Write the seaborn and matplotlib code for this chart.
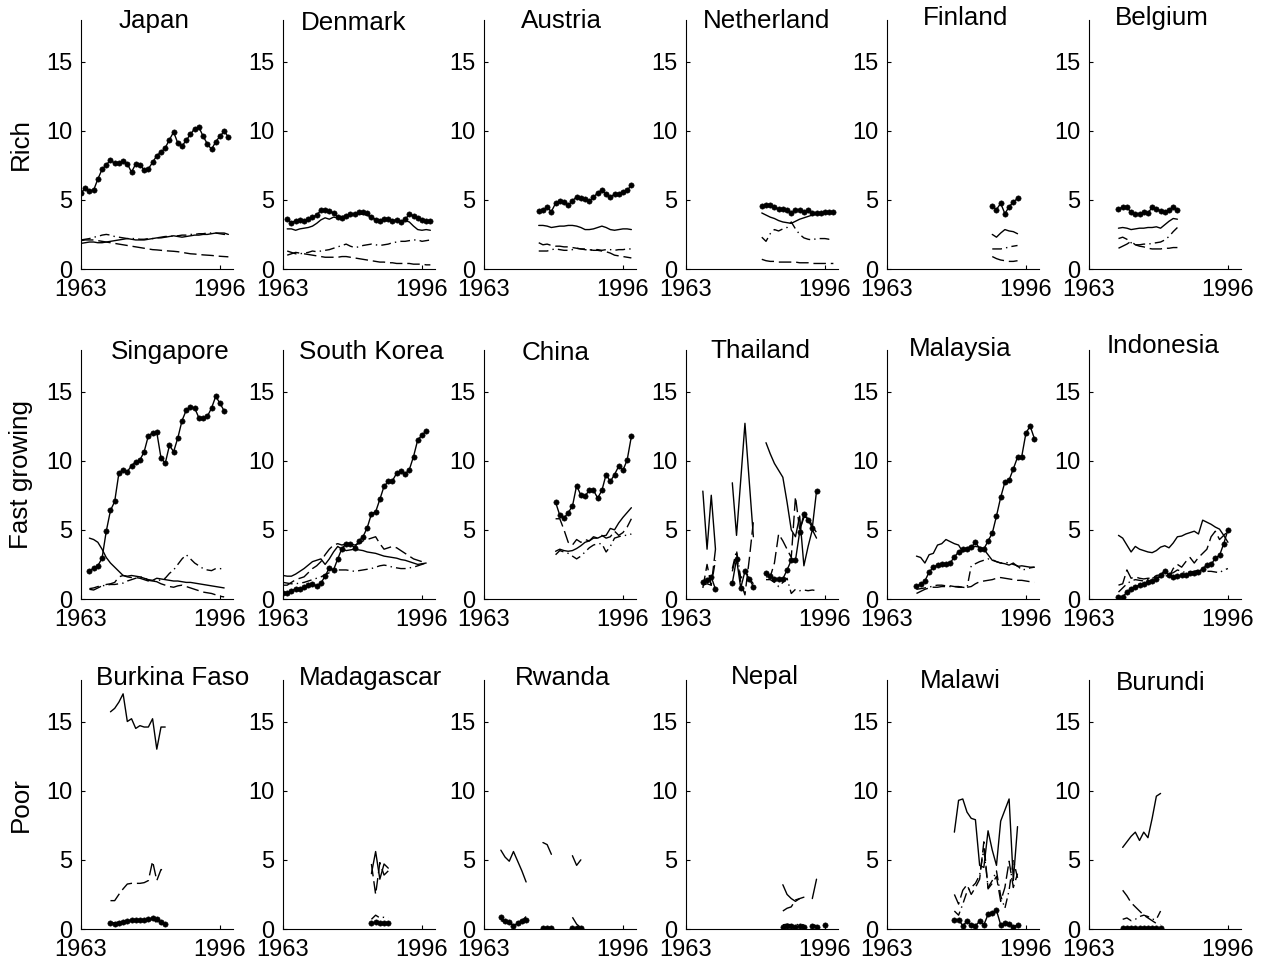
import numpy as np
import pandas as pd
import matplotlib
matplotlib.use("Agg")
import matplotlib.pyplot as plt
import seaborn as sns

nan = np.nan

# each country: first year, then one value per year (nan = no data)
# series: dot = dotted line, solid, dash = dashed, dd = dash-dot
japan_start = 1963
japan_dot = [5.5, 5.85, 5.65, 5.7, 6.5, 7.2, 7.55, 7.85, 7.65, 7.65, 7.8, 7.6, 7.0, 7.6, 7.55, 7.15, 7.25, 7.7,
             8.2, 8.45, 8.75, 9.35, 9.9, 9.1, 8.9, 9.3, 9.75, 10.15, 10.25, 9.6, 9.05, 8.65, 9.2, 9.6, 9.95, 9.55]
japan_solid = [1.85, 1.9, 1.95, 1.95, 1.9, 1.9, 1.95, 2.0, 2.05, 2.1, 2.15, 2.2, 2.15, 2.1, 2.1, 2.1, 2.15, 2.2,
               2.25, 2.25, 2.3, 2.35, 2.4, 2.35, 2.3, 2.35, 2.4, 2.45, 2.45, 2.5, 2.5, 2.55, 2.6, 2.6, 2.6, 2.5]
japan_dash = [2.05, 2.1, 2.1, 2.1, 2.05, 2.0, 1.95, 1.9, 1.85, 1.8, 1.75, 1.7, 1.65, 1.6, 1.55, 1.5, 1.45, 1.4,
              1.38, 1.35, 1.32, 1.3, 1.28, 1.25, 1.2, 1.15, 1.1, 1.08, 1.05, 1.02, 1.0, 0.98, 0.95, 0.92, 0.9, 0.88]
japan_dd = [2.1, 2.15, 2.2, 2.3, 2.35, 2.45, 2.5, 2.45, 2.35, 2.3, 2.25, 2.2, 2.2, 2.2, 2.15, 2.15, 2.2, 2.2,
            2.25, 2.3, 2.35, 2.35, 2.4, 2.4, 2.45, 2.45, 2.5, 2.5, 2.55, 2.55, 2.6, 2.6, 2.6, 2.55, 2.5, 2.5]

denmark_start = 1964
denmark_dot = [3.6, 3.35, 3.5, 3.55, 3.5, 3.6, 3.75, 3.9, 4.25, 4.3, 4.2, 4.05, 3.75, 3.7, 3.85, 4.0, 3.95, 4.1,
               4.1, 4.05, 3.75, 3.55, 3.5, 3.65, 3.6, 3.5, 3.55, 3.4, 3.6, 3.95, 3.85, 3.7, 3.55, 3.5, 3.45]
denmark_solid = [2.9, 2.9, 2.8, 2.9, 2.95, 3.0, 3.1, 3.3, 3.55, 3.7, 3.6, 3.75, 3.7, 3.8, 3.85, 3.9, 3.95, 4.0,
                 3.95, 3.9, 3.7, 3.6, 3.55, 3.6, 3.55, 3.5, 3.5, 3.45, 3.5, 3.4, 3.1, 2.85, 2.8, 2.85, 2.8]
denmark_dash = [1.0, 1.1, 1.2, 1.15, 1.1, 1.05, 1.0, 0.95, 0.9, 0.85, 0.85, 0.85, 0.85, 0.9, 0.9, 0.85, 0.8, 0.75,
                0.7, 0.65, 0.6, 0.55, 0.5, 0.5, 0.45, 0.45, 0.4, 0.4, 0.4, 0.4, 0.35, 0.35, 0.35, 0.3, 0.3]
denmark_dd = [1.3, 1.2, 1.1, 1.1, 1.15, 1.2, 1.3, 1.25, 1.3, 1.35, 1.4, 1.5, 1.6, 1.7, 1.8, 1.65, 1.55, 1.6,
              1.7, 1.75, 1.8, 1.75, 1.7, 1.75, 1.8, 1.9, 1.95, 2.0, 2.0, 2.05, 2.1, 2.1, 2.0, 2.05, 2.1]

austria_start = 1976
austria_dot = [4.2, 4.25, 4.45, 4.15, 4.75, 4.95, 4.85, 4.6, 4.95, 5.2, 5.15, 5.05, 4.9, 5.2, 5.5, 5.7, 5.4, 5.2,
               5.4, 5.45, 5.6, 5.7, 6.05]
austria_solid = [3.15, 3.15, 3.1, 3.0, 3.05, 3.1, 3.1, 3.15, 3.15, 3.1, 3.0, 2.85, 2.85, 2.9, 3.0, 3.1, 3.0, 2.85,
                 2.8, 2.85, 2.9, 2.9, 2.85]
austria_dash = [1.9, 1.75, 1.8, 1.7, 1.65, 1.65, 1.6, 1.6, 1.55, 1.5, 1.45, 1.45, 1.4, 1.35, 1.35, 1.3, 1.25, 1.15,
                1.0, 0.95, 0.9, 0.85, 0.8]
austria_dd = [1.3, 1.3, 1.3, 1.4, 1.45, 1.4, 1.35, 1.35, 1.4, 1.5, 1.45, 1.4, 1.35, 1.4, 1.4, 1.35, 1.4, 1.4,
              1.35, 1.4, 1.4, 1.45, 1.45]

netherland_start = 1981
netherland_dot = [4.55, 4.65, 4.65, 4.45, 4.35, 4.35, 4.25, 4.05, 4.25, 4.3, 4.1, 4.25, 4.05, 4.05, 4.05, 4.1, 4.1, 4.15]
netherland_solid = [4.05, 3.9, 3.75, 3.65, 3.5, 3.4, 3.35, 3.3, 3.45, 3.6, 3.7, 3.8, 3.9, 3.95, 4.0, 4.05, 4.05, 4.1]
netherland_dash = [0.7, 0.6, 0.55, 0.55, 0.5, 0.5, 0.5, 0.5, 0.5, 0.45, 0.45, 0.45, 0.4, 0.4, 0.4, 0.4, 0.4, 0.4]
netherland_dd = [2.3, 2.0, 2.55, 2.85, 2.75, 2.9, 3.0, 3.4, 2.9, 2.5, 2.25, 2.15, 2.1, 2.2, 2.2, 2.2, 2.15, 2.2]

finland_start = 1988
finland_dot = [4.55, 4.3, 4.75, 4.0, 4.5, 4.85, 5.1]
finland_solid = [2.5, 2.3, 2.6, 2.85, 2.75, 2.7, 2.55]
finland_dash = [0.9, 0.75, 0.65, 0.6, 0.55, 0.55, 0.6]
finland_dd = [1.45, 1.45, 1.45, 1.5, 1.6, 1.65, 1.7]

belgium_start = 1970
belgium_dot = [4.35, 4.45, 4.45, 4.1, 3.95, 4.0, 4.1, 4.05, 4.45, 4.35, 4.2, 4.15, 4.25, 4.5, 4.25]
belgium_solid = [2.95, 3.0, 2.95, 2.85, 2.9, 2.95, 2.95, 3.0, 3.0, 3.05, 2.95, 3.2, 3.45, 3.65, 3.6]
belgium_dash = [1.5, 1.65, 1.8, 2.0, 1.75, 1.65, 1.6, 1.5, 1.45, 1.45, 1.45, 1.5, 1.5, 1.55, 1.55]
belgium_dd = [2.2, 2.3, 2.15, 1.9, 1.75, 1.75, 1.8, 1.8, 1.85, 1.9, 1.95, 2.1, 2.35, 2.7, 3.0]

singapore_start = 1965
singapore_dot = [2.0, 2.25, 2.4, 2.95, 4.9, 6.4, 7.05, 9.1, 9.35, 9.2, 9.65, 9.9, 10.05, 10.65, 11.8, 12.0, 12.05,
                 10.2, 9.8, 11.1, 10.65, 11.65, 12.9, 13.65, 13.9, 13.8, 13.1, 13.1, 13.2, 13.8, 14.65, 14.15, 13.6]
singapore_solid = [4.4, 4.3, 4.1, 3.6, 3.0, 2.6, 2.3, 2.0, 1.7, 1.65, 1.7, 1.65, 1.6, 1.5, 1.4, 1.35, 1.5, 1.45,
                   1.4, 1.35, 1.3, 1.3, 1.25, 1.2, 1.2, 1.15, 1.1, 1.05, 1.0, 0.95, 0.9, 0.85, 0.8]
singapore_dash = [0.7, 0.65, 0.8, 0.95, 1.05, 1.1, 1.2, 1.6, 1.7, 1.6, 1.55, 1.55, 1.5, 1.4, 1.3, 1.3, 1.25, 1.1,
                  1.0, 0.9, 0.85, 0.95, 1.0, 0.9, 0.8, 0.7, 0.6, 0.5, 0.45, 0.4, 0.3, 0.2, 0.15]
singapore_dd = [0.75, 0.8, 0.9, 0.95, 1.0, 1.05, 1.05, 1.1, 1.15, 1.3, 1.4, 1.5, 1.6, 1.55, 1.35, 1.3, 1.3, 1.4,
                1.5, 1.85, 2.1, 2.5, 2.9, 3.2, 2.9, 2.6, 2.4, 2.2, 2.1, 2.05, 2.2, 2.2, 2.15]

korea_start = 1963
korea_dot = [0.45, 0.45, 0.6, 0.75, 0.7, 0.85, 1.0, 1.05, 0.95, 1.15, 1.65, 2.25, 2.1, 2.9, 3.65, 4.0, 4.0, 3.7,
             4.2, 4.5, 5.15, 6.15, 6.3, 7.2, 8.15, 8.5, 8.55, 9.1, 9.25, 9.05, 9.35, 10.3, 11.5, 11.85, 12.15]
korea_solid = [1.7, 1.65, 1.65, 1.8, 2.0, 2.2, 2.45, 2.7, 2.8, 2.9, 2.5, 2.9, 3.4, 3.8, 3.6, 3.5, 3.55, 3.6,
               3.55, 3.5, 3.4, 3.35, 3.3, 3.2, 3.1, 3.05, 3.0, 2.95, 2.85, 2.8, 2.7, 2.6, 2.5, 2.55, 2.6]
korea_dash = [1.0, 1.0, 1.2, 1.4, 1.5, 1.6, 1.9, 2.2, 2.4, 2.7, 3.2, 3.6, 3.9, 4.0, 3.9, 4.0, 4.0, 3.9,
              4.0, 4.2, 4.3, 4.4, 4.5, 4.0, 3.6, 3.7, 3.8, 3.7, 3.5, 3.3, 3.1, 2.9, 2.8, 2.7, 2.7]
korea_dd = [1.2, 1.15, 1.1, 1.1, 1.15, 1.2, 1.3, 1.4, 1.5, 1.6, 1.75, 1.9, 2.0, 2.1, 2.1, 2.1, 2.05, 2.0,
            2.05, 2.1, 2.15, 2.2, 2.3, 2.4, 2.45, 2.4, 2.3, 2.25, 2.2, 2.2, 2.25, 2.3, 2.4, 2.5, 2.6]

china_start = 1980
china_dot = [7.0, 6.05, 5.85, 6.25, 6.7, 8.2, 7.5, 7.45, 7.85, 7.85, 7.3, 7.85, 9.0, 8.5, 9.0, 9.6, 9.3, 10.05, 11.75]
china_solid = [3.45, 3.6, 3.5, 3.45, 3.5, 3.65, 3.85, 4.1, 4.2, 4.5, 4.4, 4.55, 4.6, 5.1, 5.0, 5.5, 5.9, 6.25, 6.6]
china_dash = [5.8, 5.8, 5.0, 4.1, 3.9, 4.3, 4.1, 4.3, 4.2, 4.4, 4.4, 4.6, 4.4, 4.5, 4.9, 4.6, 4.8, 5.2, 5.8]
china_dd = [3.2, 3.5, 3.4, 3.3, 3.1, 2.9, 3.1, 3.4, 3.7, 3.9, 4.0, 4.0, 3.4, 3.8, 4.4, 4.5, 4.6, 4.6, 4.7]

thailand_start = 1967
thailand_dot = [1.2, 1.35, 1.6, 0.7, nan, nan, nan, 1.15, 2.9, 0.8, 2.0, 1.45, 0.9, nan, nan,
                1.9, 1.65, 1.45, 1.45, 1.45, 2.1, 2.8, 2.8, 4.85, 6.15, 5.7, 5.15, 7.8]
thailand_solid = [7.8, 3.6, 7.5, 3.6, nan, nan, nan, 8.4, 4.6, 8.6, 12.7, 8.6, 4.5, nan, nan,
                  11.3, 10.5, 9.8, 9.3, 8.8, 7.0, 5.0, 4.5, 6.0, 2.4, 3.8, 5.0, 4.4]
thailand_dash = [0.8, 2.5, 1.0, 3.6, nan, nan, nan, 2.0, 3.3, 1.2, 0.3, 2.8, 5.6, nan, nan,
                 1.6, 1.6, 2.6, 4.7, 4.2, 3.6, 3.0, 7.4, 5.0, 5.9, 5.9, 5.3, 4.8]
thailand_dd = [1.0, 1.1, 1.0, 2.8, nan, nan, nan, 2.2, 3.5, 1.5, 1.9, 1.5, 1.1, nan, nan,
               1.4, 1.4, 1.2, 0.9, 1.2, 1.5, 0.4, 0.7, 0.6, 0.65, 0.6, 0.65, 0.6]

malaysia_start = 1970
malaysia_dot = [0.95, 1.05, 1.3, 1.95, 2.3, 2.45, 2.5, 2.55, 2.6, 3.05, 3.4, 3.6, 3.65, 3.75, 4.1, 3.65, 3.6, 4.2,
                4.75, 6.0, 7.35, 8.45, 8.6, 9.4, 10.25, 10.3, 12.0, 12.5, 11.6]
malaysia_solid = [3.1, 3.0, 2.6, 3.2, 3.3, 3.9, 4.0, 4.3, 4.15, 4.0, 3.9, 3.4, 3.7, 3.8, 3.8, 3.75, 3.6, 3.2,
                  2.8, 2.7, 2.6, 2.55, 2.45, 2.6, 2.35, 2.4, 2.35, 2.3, 2.3]
malaysia_dash = [0.4, 0.55, 0.7, 0.8, 0.85, 0.85, 0.9, 0.9, 0.95, 0.9, 0.9, 0.85, 0.85, 0.9, 1.1, 1.25, 1.3, 1.35,
                 1.4, 1.5, 1.55, 1.5, 1.45, 1.4, 1.35, 1.35, 1.3, 1.25, 1.2]
malaysia_dd = [0.7, 0.75, 0.8, 0.85, 0.95, 1.0, 1.0, 0.95, 0.9, 0.9, 0.85, 0.85, 0.8, 2.4, 2.55, 2.7, 2.8, 2.9,
               2.85, 2.7, 2.6, 2.65, 2.6, 2.5, 2.4, 2.1, 2.15, 2.25, 2.3]

indonesia_start = 1970
indonesia_dot = [0.15, 0.15, 0.5, 0.75, 0.9, 1.0, 1.1, 1.25, 1.3, 1.45, 1.7, 2.05, 1.7, 1.6, 1.65, 1.7, 1.75, 1.85,
                 1.9, 1.95, 2.2, 2.45, 2.5, 2.95, 3.15, 4.0, 5.0]
indonesia_solid = [4.6, 4.4, 3.9, 3.4, 3.8, 3.6, 3.5, 3.4, 3.35, 3.5, 3.75, 3.85, 3.7, 4.05, 4.5, 4.55, 4.7, 4.8,
                   4.9, 4.7, 5.7, 5.55, 5.4, 5.2, 5.05, 4.6, 4.1]
indonesia_dash = [1.0, 1.1, 2.1, 1.5, 1.6, 1.5, 1.45, 1.5, 1.5, 1.7, 1.75, 2.0, 1.6, 2.2, 2.5, 2.3, 2.7, 3.0,
                  2.6, 3.0, 3.3, 3.6, 4.5, 4.9, 4.3, 4.6, 4.9]
indonesia_dd = [0.5, 0.8, 1.1, 1.3, 1.4, 1.35, 1.3, 1.4, 1.5, 1.6, 1.55, 1.6, 1.8, 1.9, 2.1, 2.0, 1.9, 1.95,
                2.0, 2.1, 2.1, 2.0, 2.0, 1.95, 1.9, 2.1, 2.2]

burkina_start = 1970
burkina_dot = [0.4, 0.35, 0.45, 0.5, 0.6, 0.65, 0.65, 0.65, 0.65, 0.7, 0.8, 0.7, 0.5, 0.35]
burkina_solid = [15.7, 15.95, 16.4, 17.0, 15.0, 15.2, 14.5, 14.7, 14.6, 14.6, 15.2, 13.0, 14.6, 14.6]
burkina_dash = [2.05, 2.05, 2.5, 2.9, 3.25, 3.3, 3.3, 3.3, 3.35, 3.5, 4.9, 3.5, 4.3, 4.2]
burkina_dd = [0.45, 0.45, 0.5, 0.55, 0.6, 0.6, 0.65, 0.6, 0.6, 0.55, 0.75, 0.45, 0.35, 0.3]

madagascar_start = 1984
madagascar_dot = [0.4, 0.5, 0.4, 0.4, 0.4]
madagascar_solid = [4.0, 5.6, 3.6, 4.7, 4.4]
madagascar_dash = [4.7, 2.5, 4.8, 3.9, 4.2]
madagascar_dd = [0.7, 1.0, 0.8, 0.85, 0.8]

rwanda_start = 1967
rwanda_dot = [0.85, 0.55, 0.5, 0.25, 0.4, 0.55, 0.65, nan, nan, nan, 0.05, 0.05, 0.05, nan, nan, nan, nan, 0.05, 0.05, 0.05]
rwanda_solid = [5.7, 5.2, 4.9, 5.6, 4.9, 4.2, 3.4, nan, nan, nan, 6.25, 6.1, 5.4, nan, nan, nan, nan, 5.3, 4.6, 5.0]
rwanda_dash = [0.6, 0.5, 0.4, 0.3, 0.5, 0.6, 0.9, nan, nan, nan, 0.05, 0.05, 0.05, nan, nan, nan, nan, 0.85, 0.35, 0.1]
rwanda_dd = [0.7, 0.5, 0.45, 0.3, 0.45, 0.6, 0.8, nan, nan, nan, 0.05, 0.05, 0.05, nan, nan, nan, nan, 0.05, 0.05, 0.05]

nepal_start = 1986
nepal_dot = [0.12, 0.22, 0.22, 0.17, 0.2, 0.12, nan, 0.22, 0.12, nan, 0.3]
nepal_solid = [3.2, 2.5, 2.2, 2.0, 2.2, 2.3, nan, 2.2, 3.6, nan, 3.1]
nepal_dash = [1.3, 1.5, 1.6, 2.1, 2.2]
nepal_dd = [0.3, 0.35, 0.3, 0.3, 0.35, 0.3, nan, 0.3, 0.25, nan, 0.35]

malawi_start = 1979
malawi_dot = [0.65, 0.65, 0.25, 0.55, 0.3, 0.25, 0.55, 0.3, 1.05, 1.15, 1.35, 0.3, 0.4, 0.35, 0.15, 0.3]
malawi_solid = [7.0, 9.3, 9.4, 8.45, 8.0, 7.9, 4.6, 4.45, 7.1, 5.7, 4.6, 7.8, 8.6, 9.4, 3.5, 7.4]
malawi_dash = [2.5, 1.8, 2.8, 3.2, 2.5, 3.0, 3.6, 6.3, 2.9, 3.3, 3.8, 2.0, 3.0, 4.9, 3.0, 4.0]
malawi_dd = [1.3, 1.0, 1.8, 2.7, 3.0, 3.3, 3.9, 5.8, 3.0, 3.5, 4.2, 2.4, 1.5, 2.8, 5.0, 3.7]

burundi_start = 1971
burundi_dot = [0.05, 0.05, 0.05, 0.05, 0.05, 0.05, 0.05, 0.05, 0.05, 0.05]
burundi_solid = [5.9, 6.3, 6.7, 7.0, 6.4, 7.0, 6.6, 8.0, 9.6, 9.8]
burundi_dash = [2.8, 2.4, 1.9, 1.6, 1.3, 1.0, 0.8, 0.6, 0.4, 0.3]
burundi_dd = [0.7, 0.8, 0.6, 0.7, 0.9, 1.0, 0.9, 0.7, 0.7, 1.3]

row_labels = ["Rich", "Fast growing", "Poor"]
x_ticks = [1963, 1996]
y_ticks = [0, 5, 10, 15]

panels = [
    ("Japan", japan_start, japan_dot, japan_solid, japan_dash, japan_dd),
    ("Denmark", denmark_start, denmark_dot, denmark_solid, denmark_dash, denmark_dd),
    ("Austria", austria_start, austria_dot, austria_solid, austria_dash, austria_dd),
    ("Netherland", netherland_start, netherland_dot, netherland_solid, netherland_dash, netherland_dd),
    ("Finland", finland_start, finland_dot, finland_solid, finland_dash, finland_dd),
    ("Belgium", belgium_start, belgium_dot, belgium_solid, belgium_dash, belgium_dd),
    ("Singapore", singapore_start, singapore_dot, singapore_solid, singapore_dash, singapore_dd),
    ("South Korea", korea_start, korea_dot, korea_solid, korea_dash, korea_dd),
    ("China", china_start, china_dot, china_solid, china_dash, china_dd),
    ("Thailand", thailand_start, thailand_dot, thailand_solid, thailand_dash, thailand_dd),
    ("Malaysia", malaysia_start, malaysia_dot, malaysia_solid, malaysia_dash, malaysia_dd),
    ("Indonesia", indonesia_start, indonesia_dot, indonesia_solid, indonesia_dash, indonesia_dd),
    ("Burkina Faso", burkina_start, burkina_dot, burkina_solid, burkina_dash, burkina_dd),
    ("Madagascar", madagascar_start, madagascar_dot, madagascar_solid, madagascar_dash, madagascar_dd),
    ("Rwanda", rwanda_start, rwanda_dot, rwanda_solid, rwanda_dash, rwanda_dd),
    ("Nepal", nepal_start, nepal_dot, nepal_solid, nepal_dash, nepal_dd),
    ("Malawi", malawi_start, malawi_dot, malawi_solid, malawi_dash, malawi_dd),
    ("Burundi", burundi_start, burundi_dot, burundi_solid, burundi_dash, burundi_dd),
]

# title placement (axes fraction across, pixels below the top for the baseline)
title_x = [0.48, 0.467, 0.51, 0.53, 0.52, 0.48,
           0.585, 0.58, 0.47, 0.49, 0.48, 0.49,
           0.60, 0.575, 0.52, 0.52, 0.48, 0.47]
title_drop = [8, 10, 8, 8, 5, 5,
              9, 9, 10, 8, 6, 3,
              5, 5, 5, 4, 8, 10]

sns.set_style("ticks")
plt.rcParams["font.family"] = ["Liberation Sans", "DejaVu Sans"]
plt.rcParams["text.color"] = "k"
plt.rcParams["axes.labelcolor"] = "k"
plt.rcParams["xtick.color"] = "k"
plt.rcParams["ytick.color"] = "k"

W, H = 1270, 968
fig = plt.figure(figsize=(W / 100, H / 100), dpi=100)

lefts = [81, 283, 484, 686, 887, 1089]
tops = [20, 350, 680]
aw, ah = 152, 249

styles = {
    "dot": dict(linestyle="-", marker="o", markersize=3.8, markeredgecolor="k", markerfacecolor="k",
                markeredgewidth=0.4),
    "solid": dict(linestyle="-"),
    "dash": dict(linestyle=(0, (9, 3.5))),
    "dd": dict(linestyle=(0, (7, 3, 1, 3))),
}


def draw(ax, start, vals, style):
    v = np.array(vals, dtype=float)
    yrs = np.arange(start, start + len(v))
    seg = np.cumsum(np.isnan(v))
    d = pd.DataFrame({"year": yrs, "val": v, "seg": seg}).dropna()
    if d.empty:
        return
    sns.lineplot(data=d, x="year", y="val", units="seg", estimator=None, ax=ax,
                 color="k", linewidth=1.0, **styles[style])


for i, (name, start, dot, solid, dash, dd) in enumerate(panels):
    r, c = divmod(i, 6)
    ax = fig.add_axes([lefts[c] / W, 1 - (tops[r] + ah) / H, aw / W, ah / H])
    draw(ax, start, dash, "dash")
    draw(ax, start, dd, "dd")
    draw(ax, start, solid, "solid")
    draw(ax, start, dot, "dot")
    ax.set_xlim(1963, 1999.1)
    ax.set_ylim(0, 18)
    ax.set_xticks(x_ticks)
    ax.set_yticks(y_ticks)
    ax.tick_params(direction="in", length=3, width=0.8, labelsize=17, colors="k")
    ax.tick_params(axis="x", pad=7.5)
    ax.tick_params(axis="y", pad=6)
    ax.set_xlabel("")
    ax.set_ylabel("")
    for s in ["left", "bottom"]:
        ax.spines[s].set_linewidth(0.8)
        ax.spines[s].set_color("k")
    sns.despine(ax=ax)
    ax.text(title_x[i], 1 - title_drop[i] / ah, name, transform=ax.transAxes,
            ha="center", va="baseline", fontsize=18.7)
    if c == 0:
        ax.set_ylabel(row_labels[r], fontsize=18.7)
        ax.yaxis.set_label_coords(-48 / aw, 0.5)

fig.savefig("out.png", dpi=100)
